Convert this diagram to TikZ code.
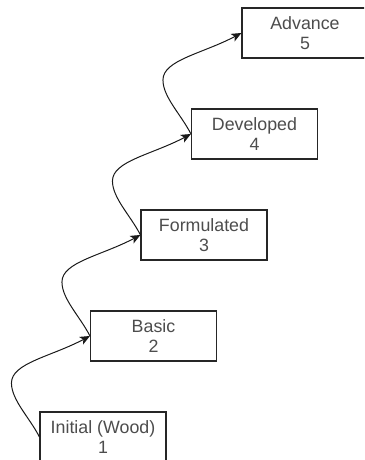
\documentclass[tikz,border=0pt]{standalone}
\usepackage{fontspec}
\setmainfont{Liberation Sans}
\usetikzlibrary{arrows.meta}
\definecolor{labelgray}{HTML}{4D4D4D}
\begin{document}
\begin{tikzpicture}[x=1pt,y=1pt,
  stagebox/.style={draw=black!85, line width=1.1pt, fill=white,
    minimum width=126pt, minimum height=50pt, inner sep=0pt,
    align=center, text=labelgray, font=\fontsize{17.8}{19.5}\selectfont},
  climb/.style={draw=black!90, line width=1pt,
    -{Stealth[length=10pt,width=8.5pt,inset=2.5pt]}}]
\clip (0,0) rectangle (364,460);
% stages, each one step up and to the right
\node[stagebox] (s1) at (103,23)    {Initial (Wood)\\1};
\node[stagebox] (s2) at (153.5,124) {Basic\\2};
\node[stagebox] (s3) at (204,225)   {Formulated\\3};
\node[stagebox] (s4) at (254.5,326) {Developed\\4};
\node[stagebox] (s5) at (305,427)   {Advance\\5};
% curved links bulging out to the left
\foreach \a/\b in {s1/s2, s2/s3, s3/s4, s4/s5}
  \draw[climb] (\a.west)
    to[out=117,in=270,out distance=22pt,in distance=17pt] ++(-28,54)
    to[out=90,in=208,out distance=20pt,in distance=44pt] (\b.west);
\end{tikzpicture}
\end{document}
